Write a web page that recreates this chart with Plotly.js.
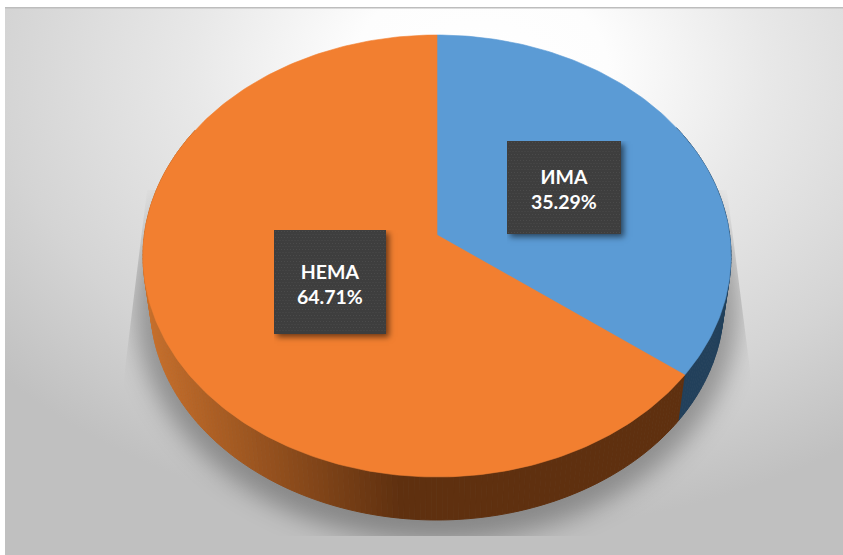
<!DOCTYPE html>
<html><head><meta charset="utf-8">
<script src="https://cdn.plot.ly/plotly-3.0.1.min.js"></script>
<style>html,body{margin:0;padding:0;background:#fff;overflow:hidden}#chart{width:843px;height:555px}</style>
</head><body><div id="chart"></div>
<script>
const categories = ['ИМА', 'НЕМА'];
const shares = [35.29, 64.71];
const faceColors = ['#5b9bd5', '#f27f30'];

const W = 843, H = 555;
const CX = 437, CY = 256, RX = 294, RY = 221;
const TILT = 0.095, DEPTH_SCALE = 0.975, DEPTH_DROP = -0.2195;
const ux = p => (p - CX) / RX, uy = p => (CY - p) / RY;
const px = u => CX + u * RX;

function project(angleDeg, bottom) {
  const t = angleDeg * Math.PI / 180, a = Math.sin(t), b = Math.cos(t);
  const d = 1 + TILT * b, s = Math.sqrt(1 - TILT * TILT);
  const x = a * s / d, y = (b + TILT) / d;
  return bottom ? [x * DEPTH_SCALE, y * DEPTH_SCALE + DEPTH_DROP] : [x, y];
}

const total = shares.reduce((a, b) => a + b, 0);
const angles = [0];
shares.forEach(v => angles.push(angles[angles.length - 1] + v / total * 360));

function lerpColor(c1, c2, t) {
  t = Math.max(0, Math.min(1, t));
  return 'rgb(' + c1.map((c, i) => Math.round(c + (c2[i] - c) * t)).join(',') + ')';
}
function sideColor(slice, xp) {
  if (slice === 0) return '#22405b';
  return lerpColor([200, 112, 44], [95, 48, 15], (xp - 150) / 250);
}

const traces = [];
function poly(xs, ys, color, name, w) {
  traces.push({type: 'scatter', mode: 'lines', x: xs, y: ys, fill: 'toself', fillcolor: color,
    line: {color: color, width: w}, hoverinfo: 'skip', showlegend: false, name: name});
}

// side wall, drawn strip by strip so the shading follows the rim
const STEP = 1;
categories.forEach((cat, i) => {
  for (let a = angles[i]; a < angles[i + 1]; a += STEP) {
    const e = Math.min(a + STEP, angles[i + 1]);
    if (e < 60 || a > 300) continue;
    const p = [project(a, false), project(e, false), project(e, true), project(a, true)];
    poly(p.map(q => q[0]), p.map(q => q[1]), sideColor(i, px((p[2][0] + p[3][0]) / 2)), cat, 1);
  }
});

// top faces
categories.forEach((cat, i) => {
  const xs = [0], ys = [TILT];
  for (let a = angles[i]; ; a += 1) {
    const q = project(Math.min(a, angles[i + 1]), false);
    xs.push(q[0]); ys.push(q[1]);
    if (a >= angles[i + 1]) break;
  }
  xs.push(xs[0]); ys.push(ys[0]);
  poly(xs, ys, faceColors[i], cat, 0.6);
});

// backdrop: frame, sheet gradient and the soft cast shadow
function backdrop() {
  const c = document.createElement('canvas'); c.width = W; c.height = H;
  const g = c.getContext('2d');
  g.fillStyle = '#fff'; g.fillRect(0, 0, W, H);
  g.save();
  g.beginPath(); g.rect(5, 8, W - 5, H - 8); g.clip();
  g.translate(480, 70); g.scale(1, 0.72);
  const r = g.createRadialGradient(0, 0, 0, 0, 0, 640);
  r.addColorStop(0, '#ffffff'); r.addColorStop(0.2, '#fdfdfd'); r.addColorStop(0.45, '#e8e8e8');
  r.addColorStop(0.75, '#d4d4d4'); r.addColorStop(1, '#c0c0c0');
  g.fillStyle = r; g.fillRect(-900, -900, 1800, 1800);
  g.restore();
  g.fillStyle = '#bdbdbd'; g.fillRect(5, 7, W - 5, 1.5);
  g.save();
  g.beginPath();
  g.moveTo(147, 190); g.lineTo(727, 190); g.lineTo(752, 385); g.lineTo(790, 536); g.lineTo(90, 536); g.lineTo(123, 385);
  g.closePath(); g.clip();
  g.filter = 'blur(12px)';
  g.fillStyle = 'rgba(0,0,0,0.30)';
  g.beginPath(); g.ellipse(CX, 305, 302, 236, 0, 0, 2 * Math.PI); g.fill();
  g.restore();
  return c.toDataURL('image/png');
}

// dark label plate with dotted weave and drop shadow
function plate(w, h) {
  const pad = 12;
  const c = document.createElement('canvas'); c.width = w + pad; c.height = h + pad;
  const g = c.getContext('2d');
  g.save();
  g.shadowColor = 'rgba(0,0,0,0.55)'; g.shadowBlur = 6; g.shadowOffsetX = 3; g.shadowOffsetY = 3;
  g.fillStyle = '#3e3e3e'; g.fillRect(0, 0, w, h);
  g.restore();
  g.fillStyle = '#4a4a4a';
  for (let y = 1; y < h - 1; y += 3) for (let x = 1 + ((y - 1) % 6 ? 1.5 : 0); x < w - 1; x += 3) g.fillRect(x, y, 1, 1);
  return {src: c.toDataURL('image/png'), w: w + pad, h: h + pad};
}

const boxes = [{l: 507, t: 141, w: 114, h: 93}, {l: 274, t: 230, w: 112, h: 104}];
const images = [{source: backdrop(), xref: 'paper', yref: 'paper', x: 0, y: 1, sizex: 1, sizey: 1,
  sizing: 'stretch', xanchor: 'left', yanchor: 'top', layer: 'below'}];
const annotations = [];
boxes.forEach((b, i) => {
  const p = plate(b.w, b.h);
  images.push({source: p.src, xref: 'paper', yref: 'paper', x: b.l / W, y: 1 - b.t / H,
    sizex: p.w / W, sizey: p.h / H, sizing: 'stretch', xanchor: 'left', yanchor: 'top', layer: 'above'});
  annotations.push({xref: 'x', yref: 'y', x: ux(b.l + b.w / 2), y: uy(b.t + b.h / 2 + 1.5),
    text: '<b>' + categories[i] + '<br>' + shares[i].toFixed(2) + '%</b>', showarrow: false,
    font: {family: 'Lato, "Open Sans", sans-serif', size: 19.5, color: '#ffffff'}, align: 'center'});
});

Plotly.newPlot('chart', traces, {
  width: W, height: H, margin: {l: 0, r: 0, t: 0, b: 0},
  paper_bgcolor: 'rgba(0,0,0,0)', plot_bgcolor: 'rgba(0,0,0,0)', showlegend: false,
  xaxis: {visible: false, range: [ux(0), ux(W)], fixedrange: true},
  yaxis: {visible: false, range: [uy(H), uy(0)], fixedrange: true},
  images: images, annotations: annotations
}, {displayModeBar: false, staticPlot: true});
</script></body></html>
